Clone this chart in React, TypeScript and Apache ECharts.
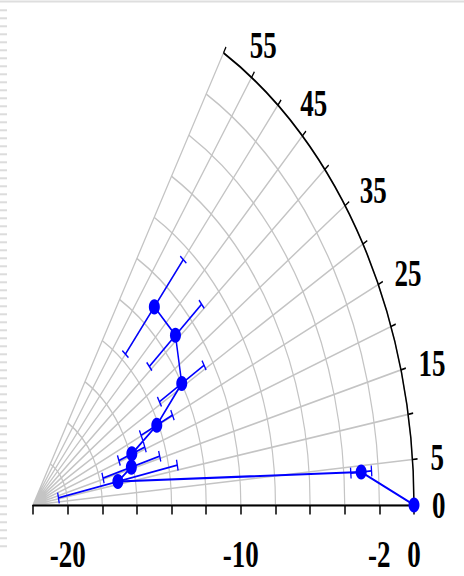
import React, { useEffect, useRef } from 'react';
import * as echarts from 'echarts';

// ---- data ----
const angles = [0, 4.2, 11.4, 15.7, 20.7, 25.2, 30.8, 41.0, 50.0];
const values = [0, -3.0, -17.0, -16.1, -15.9, -14.1, -12.0, -11.1, -11.1];
const errors = [0, 0.6, 3.5, 1.7, 0.8, 1.0, 1.5, 2.0, 2.6];
const radiusLabels = [-20, -10, -2, 0];
const angleLabels = [0, 5, 15, 25, 35, 45, 55];

// ---- layout ----
const W = 464;
const H = 576;
const STRETCH = 1.37; // the reference is stretched vertically
const CX = 33;
const CY = 505 / STRETCH;
const R = 381;
const CAP = 4;
const BLUE = '#0000ff';

export default function App() {
  const ref = useRef<HTMLDivElement>(null);

  useEffect(() => {
    const chart = echarts.init(ref.current as HTMLDivElement, null, { renderer: 'svg' });
    const labelFont = {
      fontFamily: 'Liberation Serif',
      fontWeight: 'bold' as const,
      fontSize: 27,
      color: '#000',
    };
    const lowerAngle = angleLabels.filter((v) => v <= 35);
    const upperAngle = angleLabels.filter((v) => v > 35);
    const lineData = values.map((v, i) => [v, angles[i]]);
    const errData = values.map((v, i) => [v, angles[i], errors[i]]);

    const deco: any[] = [
      {
        type: 'line',
        silent: true,
        shape: { x1: 0, y1: 1.5 / STRETCH, x2: W, y2: 1.5 / STRETCH },
        style: { stroke: '#dedede', lineWidth: 1.6 },
      },
    ];
    for (let y = 9.3; y < 548; y += 8) {
      deco.push({
        type: 'rect',
        silent: true,
        shape: { x: 0, y: y / STRETCH, width: 7, height: 2 / STRETCH },
        style: { fill: '#dcdcdc' },
      });
    }

    chart.setOption({
      animation: false,
      backgroundColor: '#ffffff',
      graphic: deco,
      polar: [
        { center: [CX, CY], radius: [0, R] },
        { center: [CX, CY], radius: [0, R] },
      ],
      angleAxis: [
        {
          polarIndex: 0,
          type: 'value',
          min: 0,
          max: 60,
          interval: 5,
          startAngle: 0,
          endAngle: 60,
          clockwise: false,
          axisLine: { show: true, lineStyle: { color: '#000', width: 1.5 } },
          axisTick: { show: true, length: 5, lineStyle: { color: '#000', width: 1.2 } },
          splitLine: { show: true, lineStyle: { color: '#c4c4c4', width: 1.2 } },
          axisLabel: {
            ...labelFont,
            margin: 18,
            lineHeight: 1,
            align: 'left',
            verticalAlign: 'middle',
            formatter: (v: number) => (lowerAngle.includes(v) ? String(v) : ''),
          },
        },
        {
          polarIndex: 1,
          type: 'value',
          min: 0,
          max: 60,
          interval: 5,
          startAngle: 0,
          endAngle: 60,
          clockwise: false,
          axisLine: { show: false },
          axisTick: { show: false },
          splitLine: { show: false },
          axisLabel: {
            ...labelFont,
            margin: -3,
            lineHeight: 1,
            padding: [0, 0, 25, 0],
            align: 'left',
            verticalAlign: 'bottom',
            formatter: (v: number) => (upperAngle.includes(v) ? String(v) : ''),
          },
        },
      ],
      radiusAxis: [
        {
          polarIndex: 0,
          type: 'value',
          min: -22,
          max: 0,
          interval: 2,
          axisLine: { show: true, lineStyle: { color: '#000', width: 1.5 } },
          axisTick: { show: true, length: -7, lineStyle: { color: '#000', width: 1.5 } },
          splitLine: { show: true, lineStyle: { color: '#c4c4c4', width: 1.2 } },
          axisLabel: {
            ...labelFont,
            margin: -36,
            align: 'center',
            verticalAlign: 'middle',
            formatter: (v: number) => (radiusLabels.includes(v) ? String(v) : ''),
          },
        },
        {
          polarIndex: 1,
          type: 'value',
          min: -22,
          max: 0,
          show: false,
        },
      ],
      series: [
        {
          type: 'custom',
          coordinateSystem: 'polar',
          polarIndex: 0,
          data: errData,
          encode: { radius: 0, angle: 1 },
          z: 2,
          renderItem: (params: any, api: any) => {
            const r = api.value(0);
            const a = api.value(1);
            const e = api.value(2);
            if (!e) return { type: 'group', children: [] };
            const p1 = api.coord([r - e, a]);
            const p2 = api.coord([r + e, a]);
            const dx = p2[0] - p1[0];
            const dy = p2[1] - p1[1];
            const len = Math.hypot(dx, dy) || 1;
            const nx = (-dy / len) * CAP;
            const ny = (dx / len) * CAP;
            const style = { stroke: BLUE, lineWidth: 1.3 };
            return {
              type: 'group',
              children: [
                { type: 'line', shape: { x1: p1[0], y1: p1[1], x2: p2[0], y2: p2[1] }, style },
                { type: 'line', shape: { x1: p1[0] - nx, y1: p1[1] - ny, x2: p1[0] + nx, y2: p1[1] + ny }, style },
                { type: 'line', shape: { x1: p2[0] - nx, y1: p2[1] - ny, x2: p2[0] + nx, y2: p2[1] + ny }, style },
              ],
            };
          },
        },
        {
          type: 'line',
          coordinateSystem: 'polar',
          polarIndex: 0,
          data: lineData,
          symbol: 'circle',
          symbolSize: 11,
          z: 3,
          lineStyle: { color: BLUE, width: 1.5 },
          itemStyle: { color: BLUE },
        },
      ],
    });

    return () => {
      chart.dispose();
    };
  }, []);

  return (
    <div
      style={{
        position: 'fixed',
        left: 0,
        top: 0,
        width: W,
        height: H / STRETCH,
        transform: `scaleY(${STRETCH})`,
        transformOrigin: '0 0',
        background: '#fff',
      }}
    >
      <div ref={ref} style={{ width: W, height: H / STRETCH }} />
    </div>
  );
}
